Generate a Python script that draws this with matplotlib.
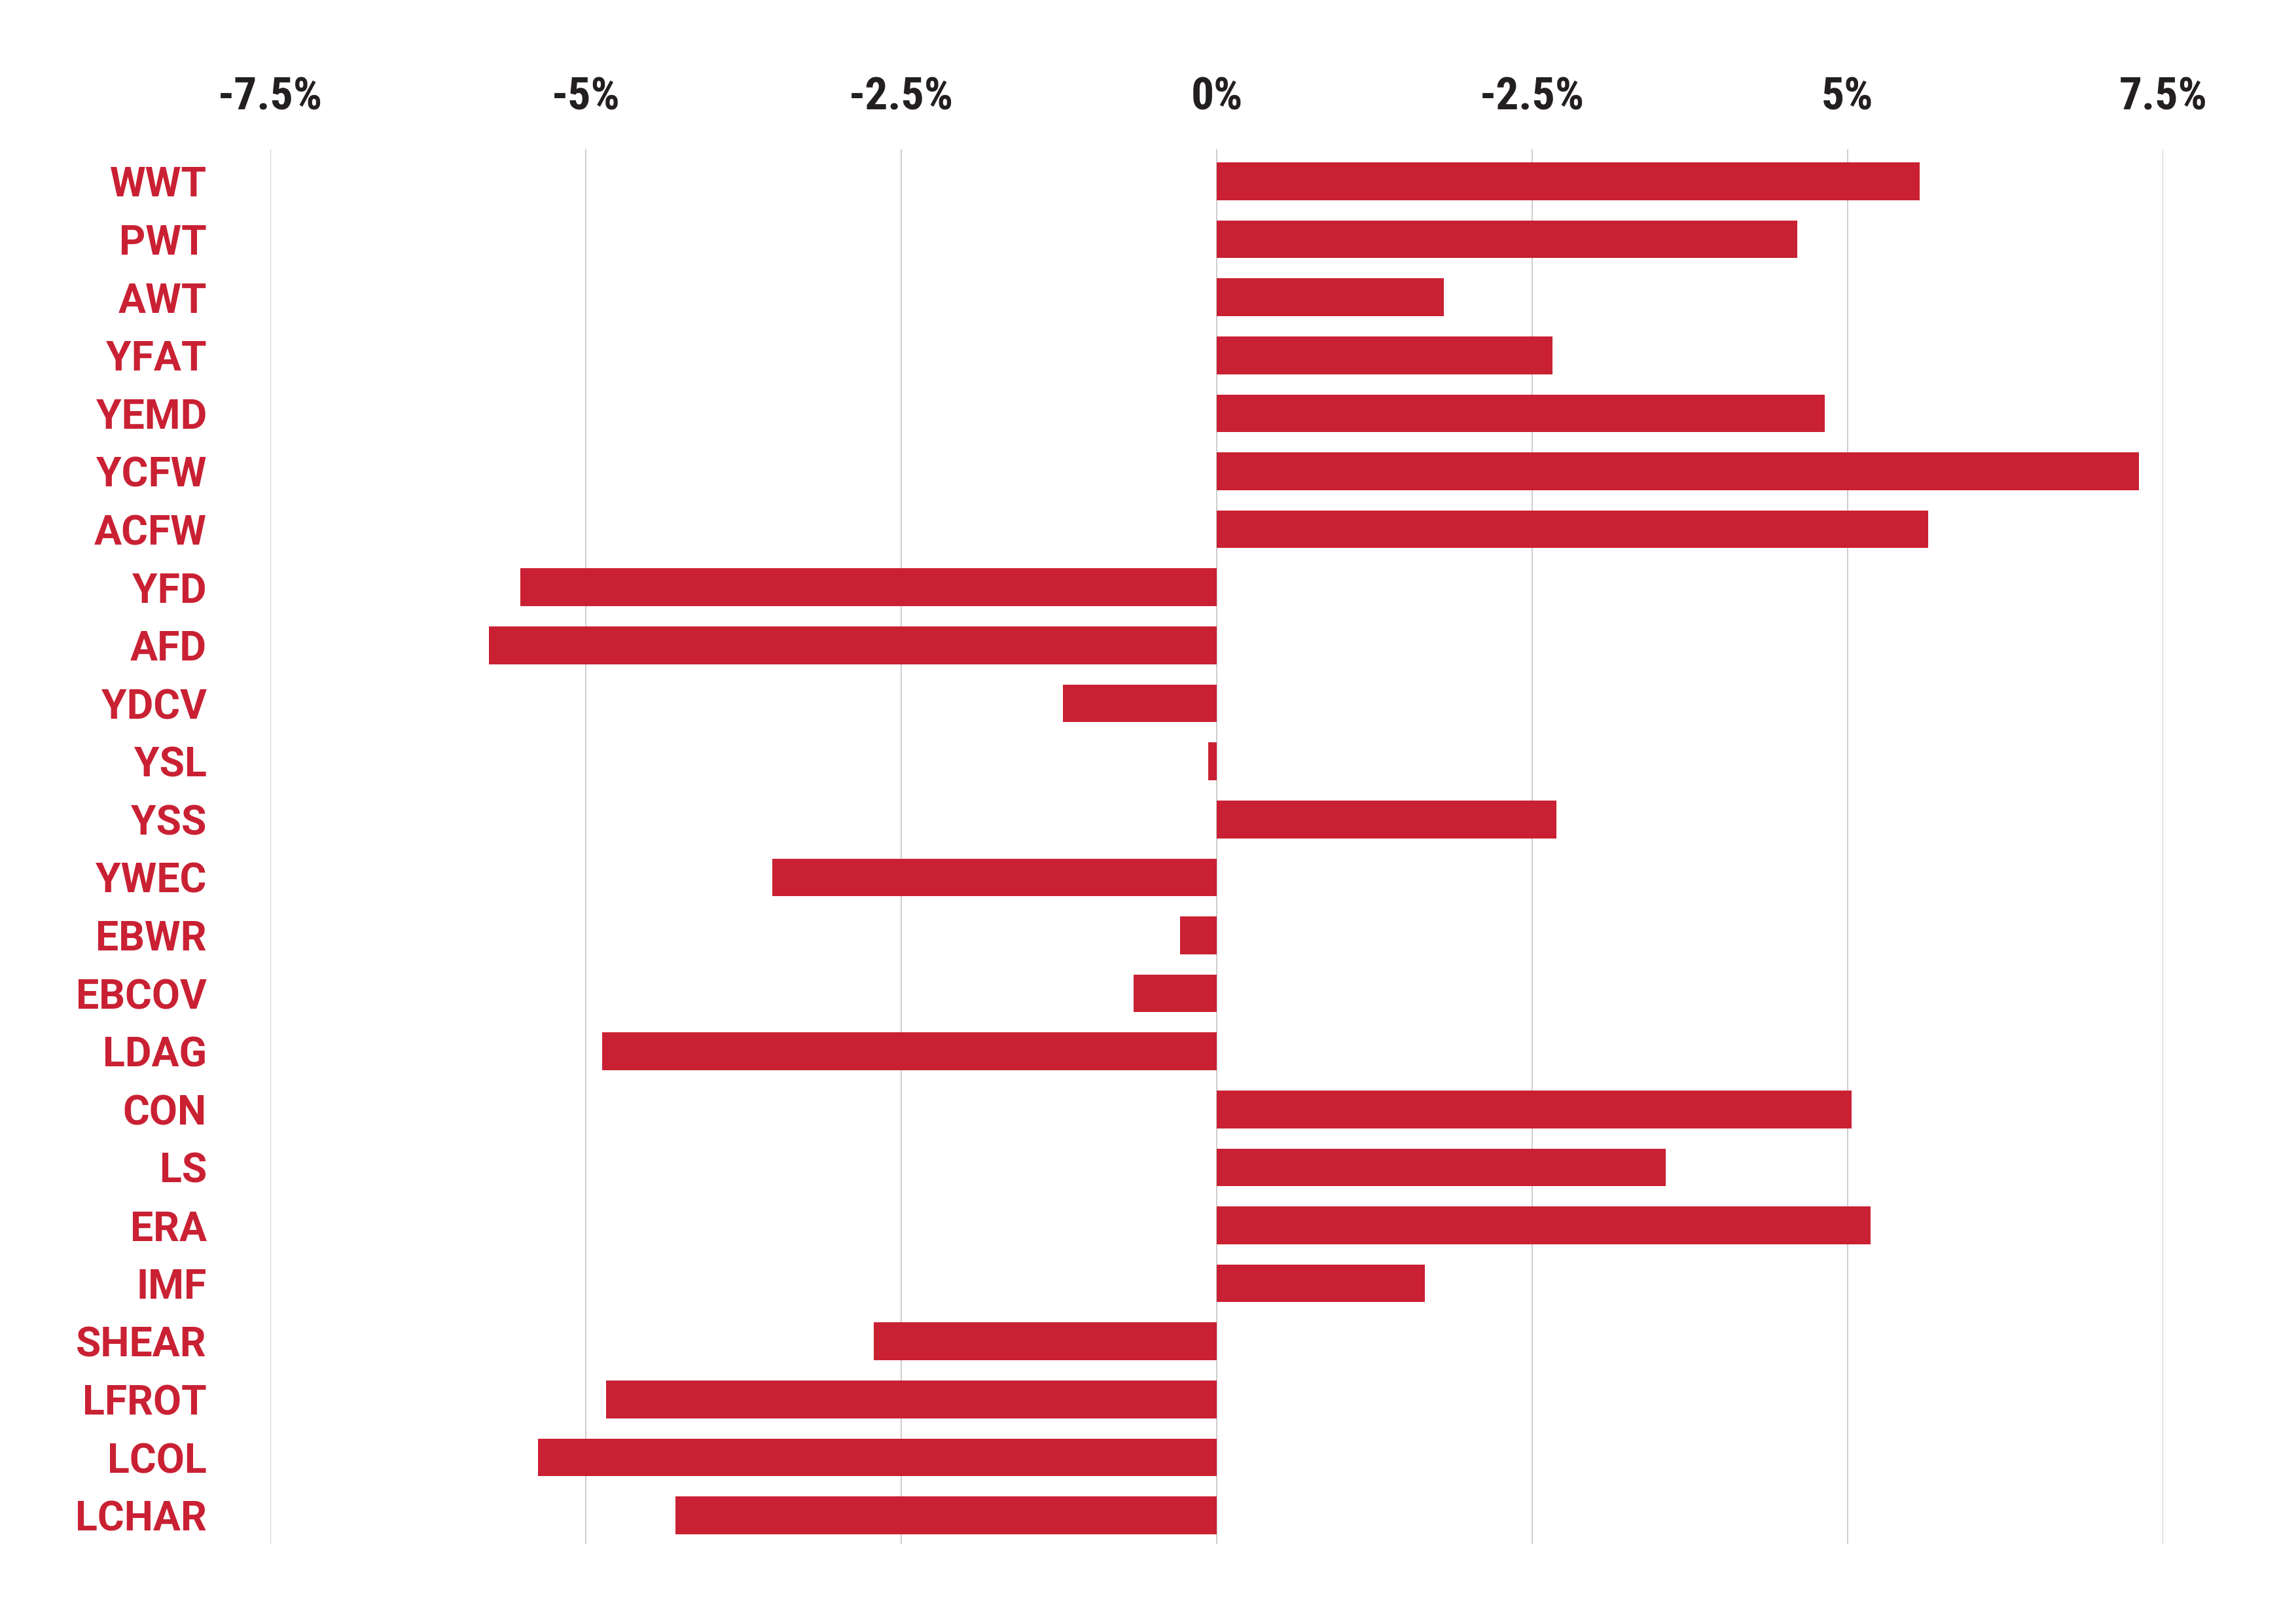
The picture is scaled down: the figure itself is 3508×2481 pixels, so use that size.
#!/usr/bin/env python
''' horizontal bar chart of percentage change per variable '''

import matplotlib
matplotlib.use("agg")
from matplotlib import pyplot as plt
from matplotlib import font_manager

#### data ####
labels = ['WWT', 'PWT', 'AWT', 'YFAT', 'YEMD', 'YCFW', 'ACFW', 'YFD', 'AFD',
          'YDCV', 'YSL', 'YSS', 'YWEC', 'EBWR', 'EBCOV', 'LDAG', 'CON', 'LS',
          'ERA', 'IMF', 'SHEAR', 'LFROT', 'LCOL', 'LCHAR']
values = [5.57, 4.60, 1.80, 2.66, 4.82, 7.31, 5.64, -5.52, -5.77,
          -1.22, -0.07, 2.69, -3.52, -0.29, -0.66, -4.87, 5.03, 3.56,
          5.18, 1.65, -2.72, -4.84, -5.38, -4.29]
tick_vals = [-7.5, -5, -2.5, 0, 2.5, 5, 7.5]
tick_text = ['-7.5%', '-5%', '-2.5%', '0%', '-2.5%', '5%', '7.5%']

red = '#C92133'

#### pick a narrow bold font for the top tick labels ####
narrow = None
for f in font_manager.fontManager.ttflist:
    fn = f.fname.lower()
    if 'condensed' in fn and 'bold' in fn and 'oblique' not in fn and 'italic' not in fn:
        narrow = f.fname
        if 'roboto' in fn:
            break
    elif 'narrow' in fn and 'bold' in fn and 'italic' not in fn and narrow is None:
        narrow = f.fname

fig = plt.figure(figsize=(35.08, 24.81), dpi=100)
ax = fig.add_axes([413/3508., 0.049, (3305-413)/3508., 0.859])

pos = list(range(len(labels)))
ax.barh(pos, values, height=0.65, color=red, zorder=2)

ax.set_xlim(-7.5, 7.5)
ax.set_ylim(len(labels)-0.5, -0.55)

ax.set_xticks(tick_vals)
ax.set_xticklabels(tick_text)
ax.xaxis.tick_top()
ax.tick_params(axis='x', length=0, pad=34, labelsize=50, labelcolor='#231F20')
for t in ax.get_xticklabels():
    if narrow:
        t.set_fontproperties(font_manager.FontProperties(fname=narrow, size=50))
    else:
        t.set_fontweight('bold')

ax.set_yticks(pos)
ax.set_yticklabels(labels)
ax.tick_params(axis='y', length=0, pad=70, labelsize=45, labelcolor=red)
for t in ax.get_yticklabels():
    t.set_family(['Roboto', 'DejaVu Sans'])
    t.set_fontweight('bold')

ax.grid(axis='x', color='#C8C8C8', linewidth=1.3, zorder=0)
ax.set_axisbelow(True)
for s in ax.spines.values():
    s.set_visible(False)

fig.savefig("out.png", dpi=100)
